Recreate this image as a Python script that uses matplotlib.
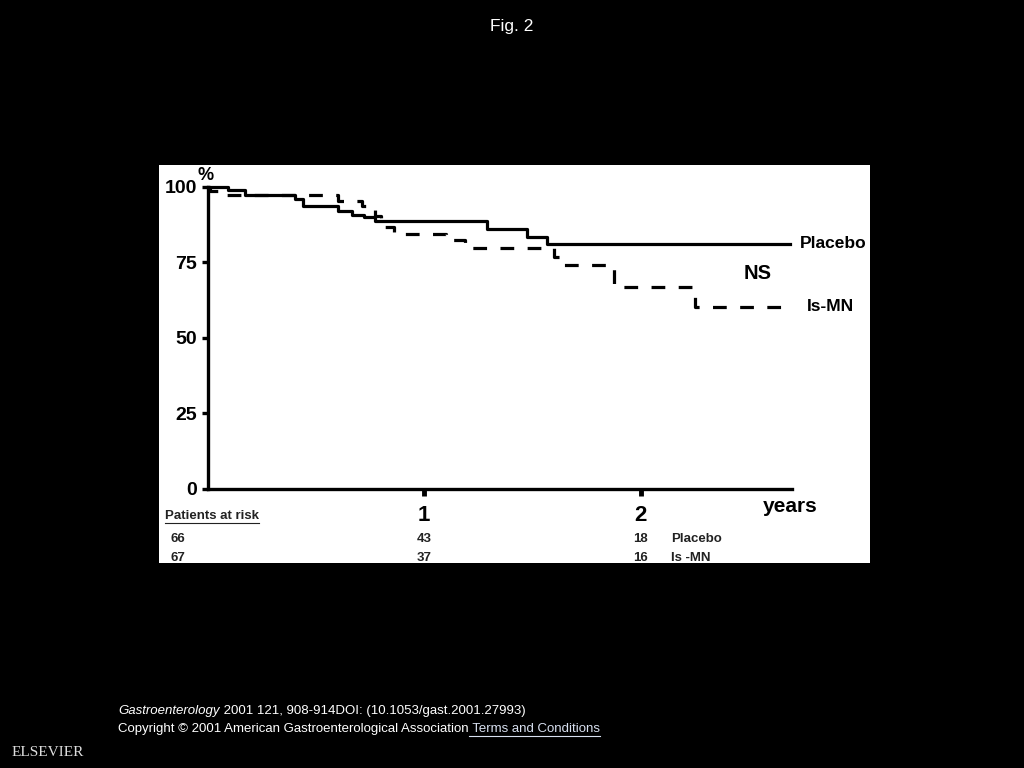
import matplotlib
matplotlib.use("Agg")
import matplotlib.pyplot as plt
from matplotlib.patches import Rectangle
from matplotlib.lines import Line2D

plt.rcParams['font.family'] = ['Liberation Sans', 'DejaVu Sans']

## survival curves (years, % event free)
placebo_t = [0, 0.094, 0.171, 0.40, 0.44, 0.60, 0.665, 0.72, 0.77, 1.29, 1.475, 1.567, 2.69]
placebo_s = [100, 99.0, 97.4, 96.0, 93.5, 91.8, 90.7, 89.9, 88.6, 86.0, 83.3, 81.1, 81.1]
ismn_t = [0, 0.01, 0.06, 0.60, 0.71, 0.74, 0.77, 0.80, 0.82, 0.86, 1.10, 1.19, 1.60,
          1.635, 1.875, 2.25, 2.68]
ismn_s = [100, 98.5, 97.4, 95.2, 93.7, 92.2, 90.2, 88.5, 86.8, 84.3, 82.3, 79.8, 76.8,
          74.1, 66.7, 60.3, 60.3]

## patients at risk table
risk_years = [0, 1, 2]
risk_placebo = [66, 43, 18]
risk_ismn = [67, 37, 16]

y_ticks = [0, 25, 50, 75, 100]
x_ticks = [1, 2]

W, H = 1024, 768
fig = plt.figure(figsize=(W / 100, H / 100), dpi=100, facecolor='black')

# white panel holding the original figure
fig.patches.append(Rectangle((159 / W, 1 - 563 / H), 711 / W, 398 / H,
                             transform=fig.transFigure, facecolor='white',
                             edgecolor='none', zorder=-5))

ax = fig.add_axes([208 / W, 1 - 488.7 / H, 584 / W, 302 / H])
ax.set_facecolor('none')
ax.set_zorder(2)
ax.set_xlim(0, 2.70)
ax.set_ylim(0, 100)
for side in ['top', 'right']:
    ax.spines[side].set_visible(False)
for side in ['left', 'bottom']:
    ax.spines[side].set_linewidth(2.4)
    ax.spines[side].set_color('black')

ax.step(placebo_t, placebo_s, where='post', color='black', lw=2.3, clip_on=False)
ax.step(ismn_t, ismn_s, where='post', color='black', lw=2.3,
        linestyle=(0, (4.3, 4.2)), clip_on=False)

ax.set_yticks(y_ticks)
ax.set_yticklabels([str(v) for v in y_ticks], fontsize=14, fontweight='bold')
ax.tick_params(axis='y', direction='out', length=4, width=2.4, pad=4)
ax.set_xticks(x_ticks)
ax.set_xticklabels([str(v) for v in x_ticks], fontsize=16, fontweight='bold')
ax.tick_params(axis='x', direction='out', length=5, width=3.5, pad=7)

ax.text(-0.005, 1.037, '%', transform=ax.transAxes, fontsize=13, fontweight='bold',
        ha='center', va='center')
ax.text(2.69, -0.06, 'years', transform=ax.get_xaxis_transform(), fontsize=15,
        fontweight='bold', ha='center', va='center')
ax.text(2.735, placebo_s[-1], 'Placebo', fontsize=12.5, fontweight='bold',
        ha='left', va='center', clip_on=False)
ax.text(2.77, ismn_s[-1], 'Is-MN', fontsize=12.5, fontweight='bold',
        ha='left', va='center', clip_on=False)
ax.text(2.54, 71.3, 'NS', fontsize=14.5, fontweight='bold', ha='center', va='center')

# patients at risk
tr = ax.get_xaxis_transform()
t = fig.text(165 / W, 1 - 516 / H, 'Patients at risk', fontsize=9.5,
             fontweight='bold', ha='left', va='center', color='#222222')
fig.canvas.draw()
bb = t.get_window_extent()
fig.add_artist(Line2D([bb.x0 / W, bb.x1 / W], [(bb.y0 - 1) / H, (bb.y0 - 1) / H],
                      color='#222222', lw=0.8))
for yr, n1, n2 in zip(risk_years, risk_placebo, risk_ismn):
    xx = yr if yr > 0 else -0.14
    ax.text(xx, -0.167, str(n1), transform=tr, fontsize=9.5, fontweight='bold',
            ha='center', va='center', color='#222222')
    ax.text(xx, -0.23, str(n2), transform=tr, fontsize=9.5, fontweight='bold',
            ha='center', va='center', color='#222222')
ax.text(2.14, -0.167, 'Placebo', transform=tr, fontsize=9.5, fontweight='bold',
        ha='left', va='center', color='#222222')
ax.text(2.14, -0.23, 'Is -MN', transform=tr, fontsize=9.5, fontweight='bold',
        ha='left', va='center', color='#222222')

# slide decoration
fig.text(0.5, 1 - 27 / H, 'Fig. 2', color='white', fontsize=12.5,
         ha='center', va='center')
fig.text(48 / W, 1 - 752 / H, 'ELSEVIER', color='#dddddd', fontsize=11,
         family='Liberation Serif', ha='center', va='center')

t1 = fig.text(118 / W, 1 - 711 / H, 'Gastroenterology', color='white',
              fontsize=9.5, style='italic', ha='left', va='center')
fig.canvas.draw()
x1 = t1.get_window_extent().x1
fig.text(x1 / W, 1 - 711 / H, ' 2001 121, 908-914DOI: (10.1053/gast.2001.27993)',
         color='white', fontsize=9.5, ha='left', va='center')
t2 = fig.text(118 / W, 1 - 729 / H,
              'Copyright \u00a9 2001 American Gastroenterological Association',
              color='white', fontsize=9.5, ha='left', va='center')
fig.canvas.draw()
x2 = t2.get_window_extent().x1
t3 = fig.text(x2 / W, 1 - 729 / H, ' Terms and Conditions', color='#d8e0f0',
              fontsize=9.5, ha='left', va='center')
fig.canvas.draw()
b3 = t3.get_window_extent()
fig.add_artist(Line2D([b3.x0 / W, b3.x1 / W], [(b3.y0 - 0.5) / H, (b3.y0 - 0.5) / H],
                      color='#d8e0f0', lw=0.8))

fig.savefig('out.png', dpi=100, facecolor='black')
